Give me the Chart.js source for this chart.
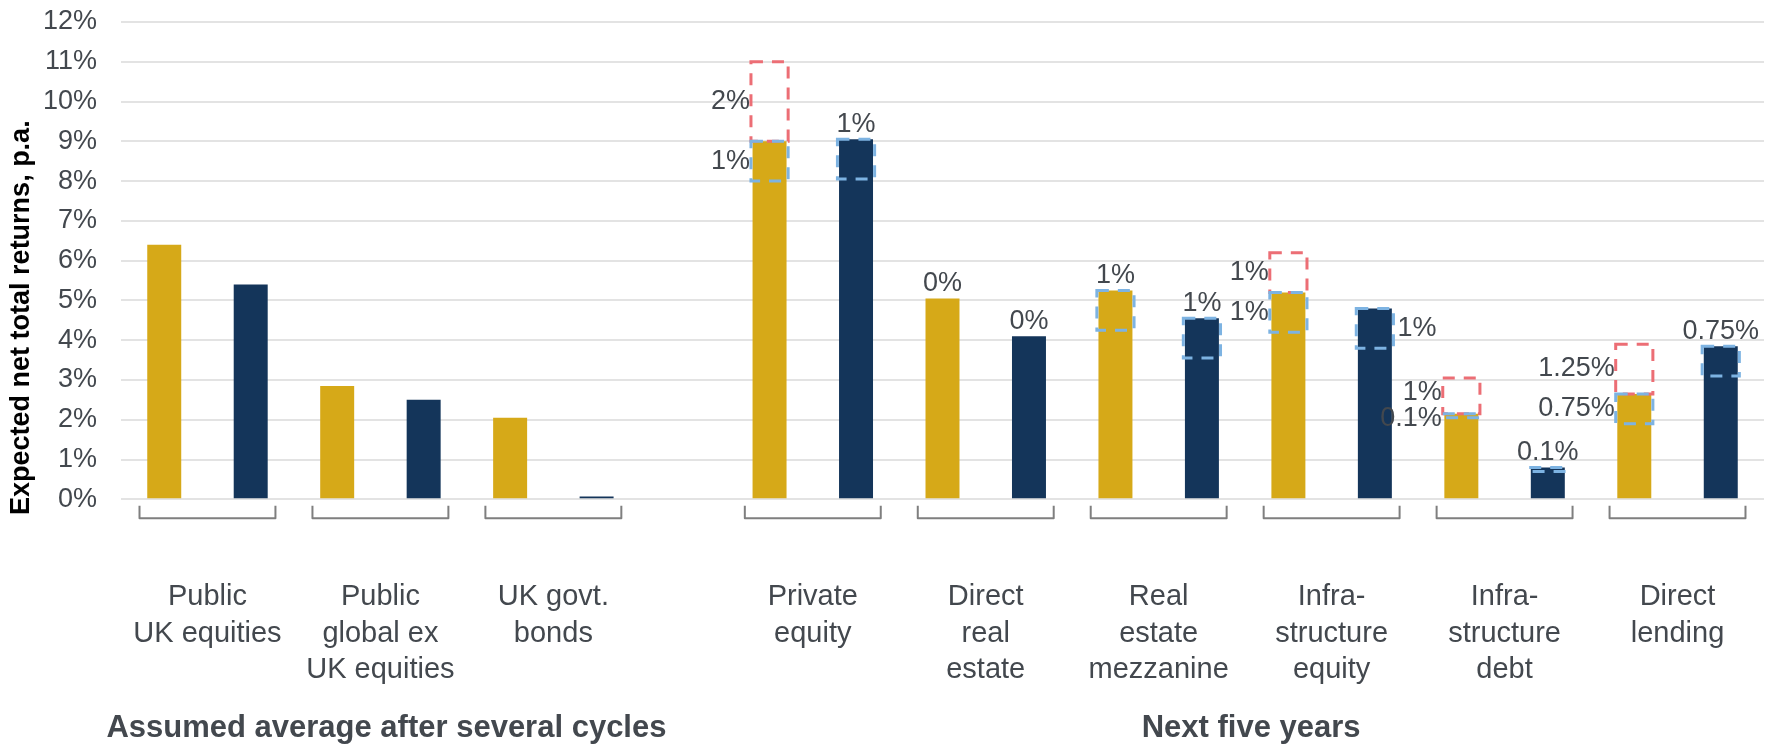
<!DOCTYPE html>
<html>
<head>
<meta charset="utf-8">
<script src="https://cdn.jsdelivr.net/npm/chart.js@4.4.1/dist/chart.umd.min.js"></script>
<style>
  html, body { margin: 0; padding: 0; background: #fff; }
  #wrap { width: 1773px; height: 746px; }
</style>
</head>
<body>
<div id="wrap"><canvas id="chart"></canvas></div>
<script>
/* ---------- data ---------- */
const categoryLabels = [
  ['Public', 'UK equities'],
  ['Public', 'global ex', 'UK equities'],
  ['UK govt.', 'bonds'],
  ['Private', 'equity'],
  ['Direct', 'real', 'estate'],
  ['Real', 'estate', 'mezzanine'],
  ['Infra-', 'structure', 'equity'],
  ['Infra-', 'structure', 'debt'],
  ['Direct', 'lending']
];
const groupTitles   = ['Assumed average after several cycles', 'Next five years'];
const categoryGroup = [0, 0, 0, 1, 1, 1, 1, 1, 1];
const yTitle = 'Expected net total returns, p.a.';

const yellowReturns = [6.4, 2.85, 2.05, 9.0, 5.05, 5.25, 5.2, 2.15, 2.65];
const navyReturns   = [5.4, 2.5, 0.07, 9.05, 4.1, 4.55, 4.8, 0.8, 3.85];

// dashed ranges: red above the bar top, blue below it
const yellowUpside   = [0, 0, 0, 2, 0, 0, 1, 0.9, 1.25];
const yellowDownside = [0, 0, 0, 1, 0, 1, 1, 0.1, 0.75];
const navyDownside   = [0, 0, 0, 1, 0, 1, 1, 0.1, 0.75];

const yellowUpsideText   = ['', '', '', '2%', '', '', '1%', '1%', '1.25%'];
const yellowDownsideText = ['', '', '', '1%', '0%', '1%', '1%', '0.1%', '0.75%'];
const navyText           = ['', '', '', '1%', '0%', '1%', '1%', '0.1%', '0.75%'];
const navyTextSide       = ['', '', '', 'above', 'above', 'above', 'right', 'above', 'above'];

const yTicks = [0, 1, 2, 3, 4, 5, 6, 7, 8, 9, 10, 11, 12];

/* ---------- style ---------- */
const COLORS = {
  yellow: '#D6A918',
  navy:   '#14355A',
  red:    '#EC6E75',
  blue:   '#7DB3E2',
  text:   '#43484E',
  grid:   '#E3E3E3',
  bracket:'#7F7F7F'
};
const FONT = '"Liberation Sans", Arial, sans-serif';

// two bar slots per category, one empty slot between the two groups
const slotOf = (i, s) => 2 * i + s + categoryGroup[i];
const centerOf = i => slotOf(i, 0.5);
const lastSlot = slotOf(categoryLabels.length - 1, 1);

function barSet(label, values, s, color) {
  return {
    label,
    data: values.map((v, i) => ({ x: slotOf(i, s), y: v })),
    backgroundColor: color,
    barPercentage: 0.393
  };
}

function boxSet(label, tops, sizes, s, dir, dash) {
  const data = [];
  tops.forEach((t, i) => {
    if (!sizes[i]) return;
    data.push({ x: slotOf(i, s), y: dir > 0 ? [t, t + sizes[i]] : [t - sizes[i], t] });
  });
  return { label, data, dashColor: dash, backgroundColor: 'rgba(0,0,0,0)', barPercentage: 0.43 };
}

/* ---------- plugins ---------- */
const dashedBoxes = {
  id: 'dashedBoxes',
  afterDatasetsDraw(chart) {
    const ctx = chart.ctx;
    chart.data.datasets.forEach((ds, di) => {
      if (!ds.dashColor) return;
      ctx.save();
      ctx.strokeStyle = ds.dashColor;
      ctx.lineWidth = 3;
      ctx.setLineDash([12, 9]);
      chart.getDatasetMeta(di).data.forEach(el => {
        const { x, y, base, width } = el.getProps(['x', 'y', 'base', 'width'], true);
        ctx.strokeRect(x - width / 2, Math.min(y, base), width, Math.abs(base - y));
      });
      ctx.restore();
    });
  }
};

const rangeLabels = {
  id: 'rangeLabels',
  afterDatasetsDraw(chart) {
    const { ctx, scales: { x, y } } = chart;
    const half = (x.getPixelForValue(1) - x.getPixelForValue(0)) * 0.43 / 2;
    ctx.save();
    ctx.font = '27px ' + FONT;
    ctx.fillStyle = COLORS.text;
    ctx.textBaseline = 'middle';
    categoryLabels.forEach((_, i) => {
      // yellow bar
      const yx = x.getPixelForValue(slotOf(i, 0));
      const yTop = y.getPixelForValue(yellowReturns[i]);
      if (yellowUpside[i]) {
        let up = (yTop + y.getPixelForValue(yellowReturns[i] + yellowUpside[i])) / 2;
        let dn = (yTop + y.getPixelForValue(yellowReturns[i] - yellowDownside[i])) / 2;
        const clash = 26 - (dn - up);
        if (clash > 0) { up -= clash / 2; dn += clash / 2; }
        ctx.textAlign = 'right';
        ctx.fillText(yellowUpsideText[i], yx - half - 1, up);
        ctx.fillText(yellowDownsideText[i], yx - half - 1, dn);
      } else if (yellowDownsideText[i]) {
        ctx.textAlign = 'center';
        ctx.fillText(yellowDownsideText[i], yx, yTop - 15);
      }
      // navy bar
      if (!navyText[i]) return;
      const nx = x.getPixelForValue(slotOf(i, 1));
      const nTop = y.getPixelForValue(navyReturns[i]);
      if (navyTextSide[i] === 'right') {
        const mid = (nTop + y.getPixelForValue(navyReturns[i] - navyDownside[i])) / 2;
        ctx.textAlign = 'left';
        ctx.fillText(navyText[i], nx + half + 4, mid);
      } else {
        ctx.textAlign = 'center';
        ctx.fillText(navyText[i], nx, nTop - 15);
      }
    });
    ctx.restore();
  }
};

const decorations = {
  id: 'decorations',
  afterDraw(chart) {
    const { ctx, scales: { x, y }, chartArea } = chart;
    const slotW = x.getPixelForValue(1) - x.getPixelForValue(0);
    const y0 = chartArea.bottom + 6.5, y1 = chartArea.bottom + 19;
    ctx.save();
    // category brackets
    ctx.strokeStyle = COLORS.bracket;
    ctx.lineWidth = 2;
    ctx.lineJoin = 'round';
    categoryLabels.forEach((_, i) => {
      const cx = x.getPixelForValue(centerOf(i));
      const hw = slotW * 0.786;
      ctx.beginPath();
      ctx.moveTo(cx - hw, y0);
      ctx.lineTo(cx - hw, y1);
      ctx.lineTo(cx + hw, y1);
      ctx.lineTo(cx + hw, y0);
      ctx.stroke();
    });
    // group titles
    ctx.font = 'bold 31px ' + FONT;
    ctx.fillStyle = COLORS.text;
    ctx.textAlign = 'center';
    ctx.textBaseline = 'middle';
    groupTitles.forEach((t, g) => {
      const members = categoryGroup.map((gg, i) => gg === g ? i : -1).filter(i => i >= 0);
      const a = x.getPixelForValue(centerOf(members[0]));
      const b = x.getPixelForValue(centerOf(members[members.length - 1]));
      ctx.fillText(t, (a + b) / 2 + 6, chartArea.bottom + 229);
    });
    // y axis title
    ctx.font = 'bold 27px ' + FONT;
    ctx.fillStyle = '#000';
    ctx.translate(22, (chartArea.top + chartArea.bottom) / 2 + 57);
    ctx.rotate(-Math.PI / 2);
    ctx.fillText(yTitle, 0, 0);
    ctx.restore();
  }
};

/* ---------- chart ---------- */
new Chart(document.getElementById('chart'), {
  type: 'bar',
  data: {
    datasets: [
      barSet('Yellow', yellowReturns, 0, COLORS.yellow),
      barSet('Navy', navyReturns, 1, COLORS.navy),
      boxSet('Yellow upside', yellowReturns, yellowUpside, 0, 1, COLORS.red),
      boxSet('Yellow downside', yellowReturns, yellowDownside, 0, -1, COLORS.blue),
      boxSet('Navy downside', navyReturns, navyDownside, 1, -1, COLORS.blue)
    ]
  },
  options: {
    responsive: true,
    maintainAspectRatio: false,
    animation: false,
    layout: { padding: { left: 0, top: 22, right: 9, bottom: 0 } },
    datasets: { bar: { grouped: false, categoryPercentage: 1, borderWidth: 0 } },
    plugins: { legend: { display: false }, tooltip: { enabled: false } },
    scales: {
      x: {
        type: 'linear',
        min: -0.5,
        max: lastSlot + 0.5,
        offset: false,
        grid: { display: false },
        border: { display: false },
        afterBuildTicks: s => { s.ticks = categoryLabels.map((_, i) => ({ value: centerOf(i) })); },
        afterFit: s => { s.height = 246.7; s.paddingLeft = 0; s.paddingRight = 0; },
        ticks: {
          autoSkip: false,
          maxRotation: 0,
          padding: 71,
          color: COLORS.text,
          font: { family: FONT, size: 29, lineHeight: 1.27 },
          callback: (v, i) => categoryLabels[i]
        }
      },
      y: {
        min: 0,
        max: 12,
        afterBuildTicks: s => { s.ticks = yTicks.map(v => ({ value: v })); },
        afterFit: s => { s.width = 121; s.paddingTop = 0; s.paddingBottom = 0; },
        grid: { color: COLORS.grid, lineWidth: 2, drawTicks: false },
        border: { display: false },
        ticks: {
          padding: 24,
          color: COLORS.text,
          font: { family: FONT, size: 27 },
          callback: v => v + '%'
        }
      }
    }
  },
  plugins: [dashedBoxes, rangeLabels, decorations]
});
</script>
</body>
</html>
